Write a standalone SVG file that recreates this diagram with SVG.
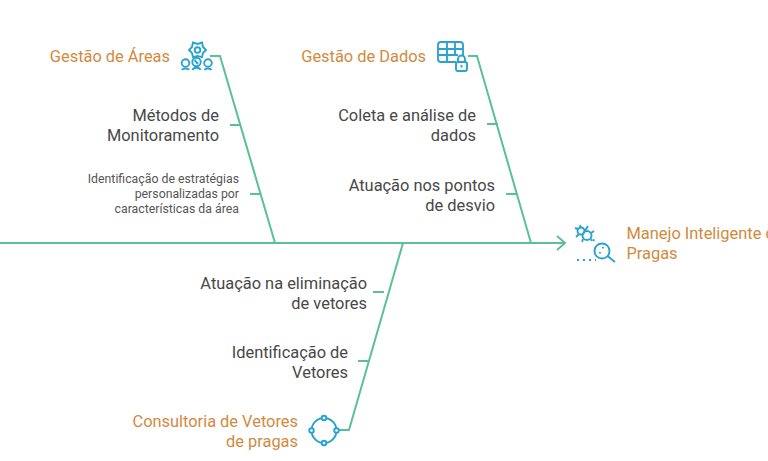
<svg xmlns="http://www.w3.org/2000/svg" width="768" height="461" viewBox="0 0 768 461">
<defs><style>
text{font-family:Roboto,"Liberation Sans",sans-serif}
.t{font-size:16.4px;fill:#d18a3e}
.l{font-size:16.4px;fill:#484848}
.s{font-size:12.3px;fill:#555}
.c{fill:none;stroke:#5cc096;stroke-width:2}
.i{fill:none;stroke:#2ba3cf;stroke-width:1.9}
.d{fill:#fff;stroke:#2ba3cf;stroke-width:1.9}
</style></defs>
<rect width="768" height="461" fill="#fff"/>
<g id="connectors">
<path class="c" d="M0 243H564M557 236l8 7-8 7"/>
<path class="c" d="M210 56H220L275 243M230 125H241M250 194H261"/>
<path class="c" d="M468 56H477L531 243M487 124H498M506 194H517"/>
<path class="c" d="M403 243L349 430H338M373 292H384M358 361H369"/>
</g>
<g id="head">
<text class="t" x="626.500" y="239">Manejo Inteligente de</text>
<text class="t" x="626.500" y="259">Pragas</text>
<g id="head-icon">
<circle class="i" cx="581" cy="231" r="3.500"/><circle class="i" cx="587" cy="235.500" r="4.500"/>
<path class="i" d="M575 228l3 1M580 225l1 3M588 226l-3 5M576 237l3-3M582 242l1-3M592 241l-1-2M594 231l-3 2"/>
<circle class="i" cx="602" cy="251" r="7.500"/><path class="i" d="M607.500 256l7.500 6"/>
<path class="i" stroke-dasharray="2 4" d="M577 260H596M593 239.500l2 2M603 247v1.500M600 252v1.500"/>
</g>
</g>
<g id="areas">
<text class="t" x="170" y="62" text-anchor="end">Gestão de Áreas</text>
<g id="areas-icon">
<path class="i" d="M206 50L203 53L202 57.100L197.500 56L193 57.100L192 53L189 50L192 47L193 42.500L197.500 44L202 42.500L203 47Z"/>
<circle class="i" cx="197.500" cy="50" r="2.800"/>
<circle class="d" cx="185.500" cy="63" r="3.800"/><circle class="d" cx="196.500" cy="62" r="4.200"/><circle class="d" cx="208" cy="63" r="3.800"/>
<path class="i" d="M182 70c1-2 6-2 7 0M192.500 70c1-3 7-3 8 0M204.500 70c1-2 6-2 7 0M194.500 60l3.500 4"/>
</g>
</g>
<g id="dados">
<text class="t" x="426" y="62" text-anchor="end">Gestão de Dados</text>
<g id="dados-icon">
<path class="i" d="M456 62H441q-3 0-3-3V45q0-3 3-3H460q3 0 3 3V55M438 49H463M438 55H458M447 42V62M455 42V55"/>
<rect class="d" x="456" y="62" width="11" height="9" rx="2"/>
<path class="i" d="M458 62v-3a3.500 3.500 0 0 1 7 0v3M461.500 65v2.500"/>
</g>
</g>
<g id="vetores">
<text class="t" x="298" y="427" text-anchor="end">Consultoria de Vetores</text>
<text class="t" x="298" y="447" text-anchor="end">de pragas</text>
<g id="vetores-icon">
<circle class="i" cx="324" cy="430.500" r="12.500" style="stroke-width:2"/>
<circle class="d" cx="324" cy="418" r="2.300"/><circle class="d" cx="336.500" cy="430.500" r="2.300"/><circle class="d" cx="324" cy="443" r="2.300"/><circle class="d" cx="311.500" cy="430.500" r="2.300"/>
</g>
</g>
<g id="metodos"><text class="l" x="219" y="121" text-anchor="end">Métodos de</text><text class="l" x="219" y="141" text-anchor="end">Monitoramento</text></g>
<g id="identificacao"><text class="s" x="239" y="183" text-anchor="end">Identificação de estratégias</text><text class="s" x="239" y="198" text-anchor="end">personalizadas por</text><text class="s" x="239" y="213" text-anchor="end">características da área</text></g>
<g id="coleta"><text class="l" x="476" y="121" text-anchor="end">Coleta e análise de</text><text class="l" x="476" y="141" text-anchor="end">dados</text></g>
<g id="atuacao"><text class="l" x="495" y="190.500" text-anchor="end">Atuação nos pontos</text><text class="l" x="495" y="210.500" text-anchor="end">de desvio</text></g>
<g id="eliminacao"><text class="l" x="367" y="289" text-anchor="end">Atuação na eliminação</text><text class="l" x="367" y="309" text-anchor="end">de vetores</text></g>
<g id="idvetores"><text class="l" x="348" y="358" text-anchor="end">Identificação de</text><text class="l" x="348" y="378" text-anchor="end">Vetores</text></g>
</svg>
